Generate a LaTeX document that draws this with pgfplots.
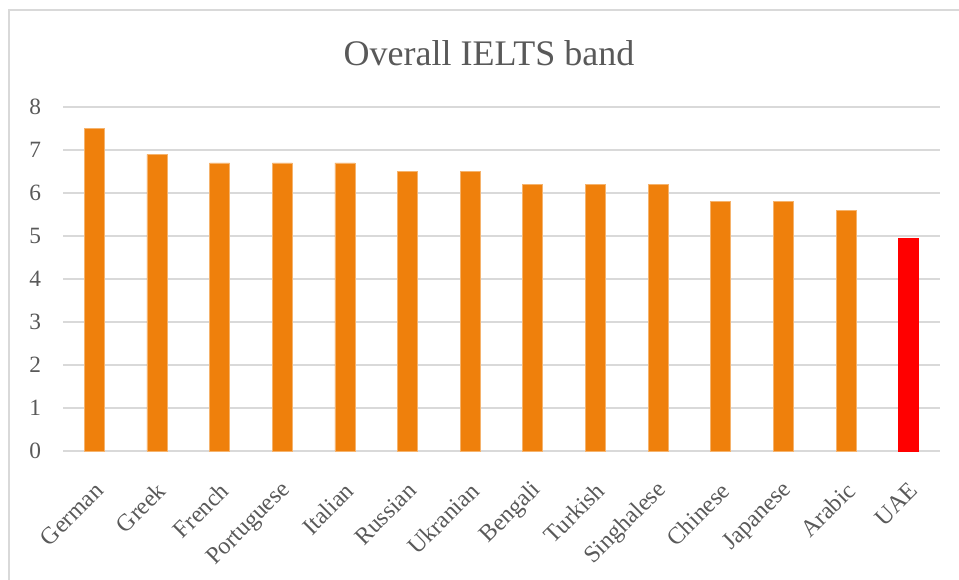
\documentclass[border=0pt]{standalone}
\usepackage{pgfplots}
\pgfplotsset{compat=1.18}
\usepackage{fontspec}
\setmainfont{Liberation Serif}
\definecolor{txt}{RGB}{89,89,89}
\definecolor{gridc}{RGB}{217,217,217}
\definecolor{barO}{RGB}{239,128,12}
\definecolor{barR}{RGB}{255,0,0}
\begin{document}
\begin{tikzpicture}
\useasboundingbox (0pt,0pt) rectangle (719.25pt,435pt);
\draw[gridc, line width=1.2pt] (6.75pt,427.5pt) rectangle (730pt,-8pt);
\node[txt, font=\fontsize{27}{32}\selectfont] at (366.75pt,395.25pt) {Overall IELTS band};
\begin{axis}[
  at={(47.25pt,96.75pt)}, anchor=south west,
  scale only axis, width=657.75pt, height=258pt,
  xmin=-0.5, xmax=13.5, ymin=0, ymax=8,
  ytick={0,1,...,8},
  xtick={0,...,13},
  xticklabels={German,Greek,French,Portuguese,Italian,Russian,Ukranian,Bengali,Turkish,Singhalese,Chinese,Japanese,Arabic,UAE},
  axis line style={draw=none},
  major tick length=0pt,
  ymajorgrids, grid style={gridc, line width=1.1pt},
  yticklabel style={font=\fontsize{17.5}{20}\selectfont, text=txt, xshift=-13pt},
  xticklabel style={font=\fontsize{18}{20}\selectfont, text=txt, rotate=45, anchor=east, xshift=-13pt, yshift=-21.5pt},
  /pgf/number format/assume math mode=true,
  ybar, bar width=15pt, bar shift=0pt,
  clip=false,
]
\addplot[fill=barO, draw=barO!60!white, line width=0.5pt] coordinates {
(0,7.5) (1,6.9) (2,6.7) (3,6.7) (4,6.7) (5,6.5) (6,6.5) (7,6.2) (8,6.2) (9,6.2) (10,5.8) (11,5.8) (12,5.6)};
\addplot[fill=barR, draw=barR] coordinates {(13,4.95)};
\end{axis}
\end{tikzpicture}
\end{document}
